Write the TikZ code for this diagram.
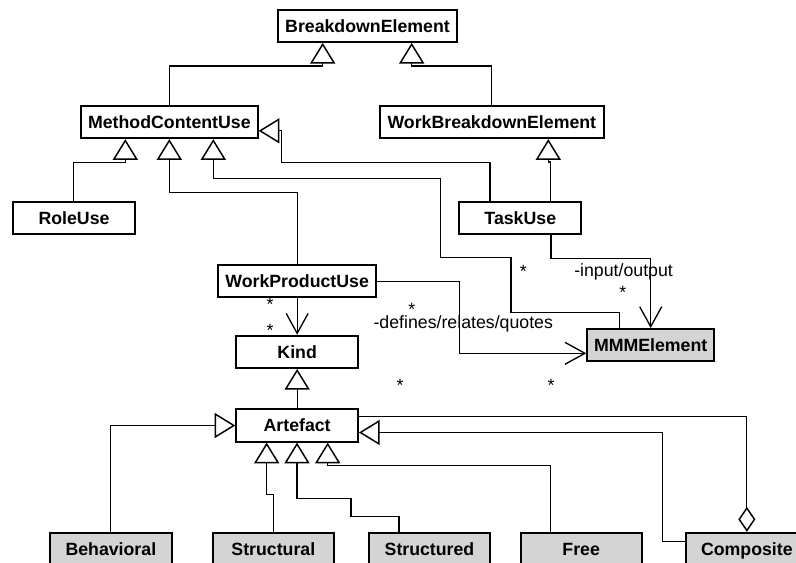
\documentclass[tikz,border=0pt]{standalone}
\usepackage{fontspec}
\setmainfont{Liberation Sans}
\usetikzlibrary{arrows.meta}
\definecolor{leaf}{RGB}{212,212,212}
\begin{document}
\begin{tikzpicture}[x=0.75pt,y=-0.75pt,
  cls/.style={draw, line width=1.5pt, inner sep=0pt, fill=white,
    font=\fontsize{13.3pt}{16pt}\selectfont\bfseries,
    text height=9.5pt, text depth=0pt, minimum height=24.2pt},
  leafcls/.style={cls, fill=leaf},
  bw/.style={minimum width=#1*0.75pt},
  conn/.style={line width=0.8pt},
  gen/.style={conn, -{Triangle[fill=white, length=15.5pt, width=18.75pt, line width=1.1pt]}},
  nav/.style={conn, -{Straight Barb[length=15pt, width=16.5pt, line width=1pt]}},
  agg/.style={conn, -{Diamond[fill=white, length=18.75pt, width=12.75pt, line width=1.1pt]}},
  lbl/.style={inner sep=0pt, font=\fontsize{13.3pt}{16pt}\selectfont},
  star/.style={lbl, text height=4.5pt, text depth=-7.5pt, anchor=base}]
\clip (0,0) rectangle (796,562);
% classes
\node[cls, bw=179] (BE) at (367.5,25.75) {BreakdownElement};
\node[cls, bw=176.7] (MCU) at (169.35,122) {MethodContentUse};
\node[cls, bw=223.7] (WBE) at (491.85,122) {WorkBreakdownElement};
\node[cls, bw=122] (RU) at (74,217.85) {RoleUse};
\node[cls, bw=122] (TU) at (520.3,217.85) {TaskUse};
\node[cls, bw=157.7] (WPU) at (297.15,281.35) {WorkProductUse};
\node[cls, bw=121.7] (K) at (297.15,351.85) {Kind};
\node[cls, bw=121.7] (A) at (297.15,425.5) {Artefact};
\node[leafcls, bw=126.7] (MMM) at (650.65,345.2) {MMMElement};
\node[leafcls, bw=121.7] (Beh) at (110.85,548.95) {Behavioral};
\node[leafcls, bw=121.3] (Str) at (273.35,548.95) {Structural};
\node[leafcls, bw=121] (Sd) at (429.5,548.95) {Structured};
\node[leafcls, bw=121] (Fr) at (581.2,548.95) {Free};
\node[leafcls, bw=121.7] (Co) at (746.85,548.95) {Composite};
% generalizations
\draw[gen] (MCU.north) |- (322.7,66) -- (322.7,0 |- BE.south);
\draw[gen] (491.7,0 |- WBE.north) |- (411.7,66) -- (411.7,0 |- BE.south);
\draw[gen] (73.7,0 |- RU.north) |- (125.3,162.7) -- (125.3,0 |- MCU.south);
\draw[gen] (WPU.north) |- (169.3,192.3) -- (169.3,0 |- MCU.south);
\draw[gen] (619.3,0 |- MMM.north) |- (511,312.7) |- (440.7,257.3) |- (213.3,178.3) -- (213.3,0 |- MCU.south);
\draw[gen] (490,0 |- TU.north) |- (281.7,162.3) |- (MCU.east |- 0,130.8);
\draw[gen] (550.7,0 |- TU.north) -- (550.7,162) -- (548.3,162) -- (548.3,0 |- WBE.south);
\draw[gen] (A.north) -- (K.south);
\draw[gen] (Beh.north) |- (A.west);
\draw[gen] (Str.north) |- (266.7,494.3) -- (266.7,0 |- A.south);
\draw[gen] (399,0 |- Sd.north) |- (351,516.7) |- (297,498.7) -- (297,0 |- A.south);
\draw[gen] (550.7,0 |- Fr.north) |- (327.7,465.7) -- (327.7,0 |- A.south);
\draw[gen] (Co.west |- 0,541.7) -| (662.7,432.5) -- (A.east |- 0,432.5);
% associations
\draw[nav] (551,0 |- TU.south) |- (650.7,258.3) -- (650.7,0 |- MMM.north);
\draw[nav] (WPU.east |- 0,281.7) -| (459.3,353.3) -- (MMM.west |- 0,353.3);
\draw[nav] (WPU.south) -- (K.north);
\draw[agg] (A.east |- 0,416.7) -| (Co.north);
% labels
\node[lbl, anchor=base] (s1) at (270,310.2) {*};
\node[lbl, anchor=base] (s2) at (270,336.2) {*};
\node[lbl, anchor=base] (s3) at (411.7,315) {*};
\node[lbl, anchor=base west] (def) at (373.3,328) {-defines/relates/quotes};
\node[lbl, anchor=base] (s4) at (523.3,277.9) {*};
\node[lbl, anchor=base west] (io) at (574,276) {-input/output};
\node[lbl, anchor=base] (s5) at (622.7,298.5) {*};
\node[lbl, anchor=base] (s6) at (400,391.9) {*};
\node[lbl, anchor=base] (s7) at (551,391.9) {*};
\end{tikzpicture}
\end{document}
